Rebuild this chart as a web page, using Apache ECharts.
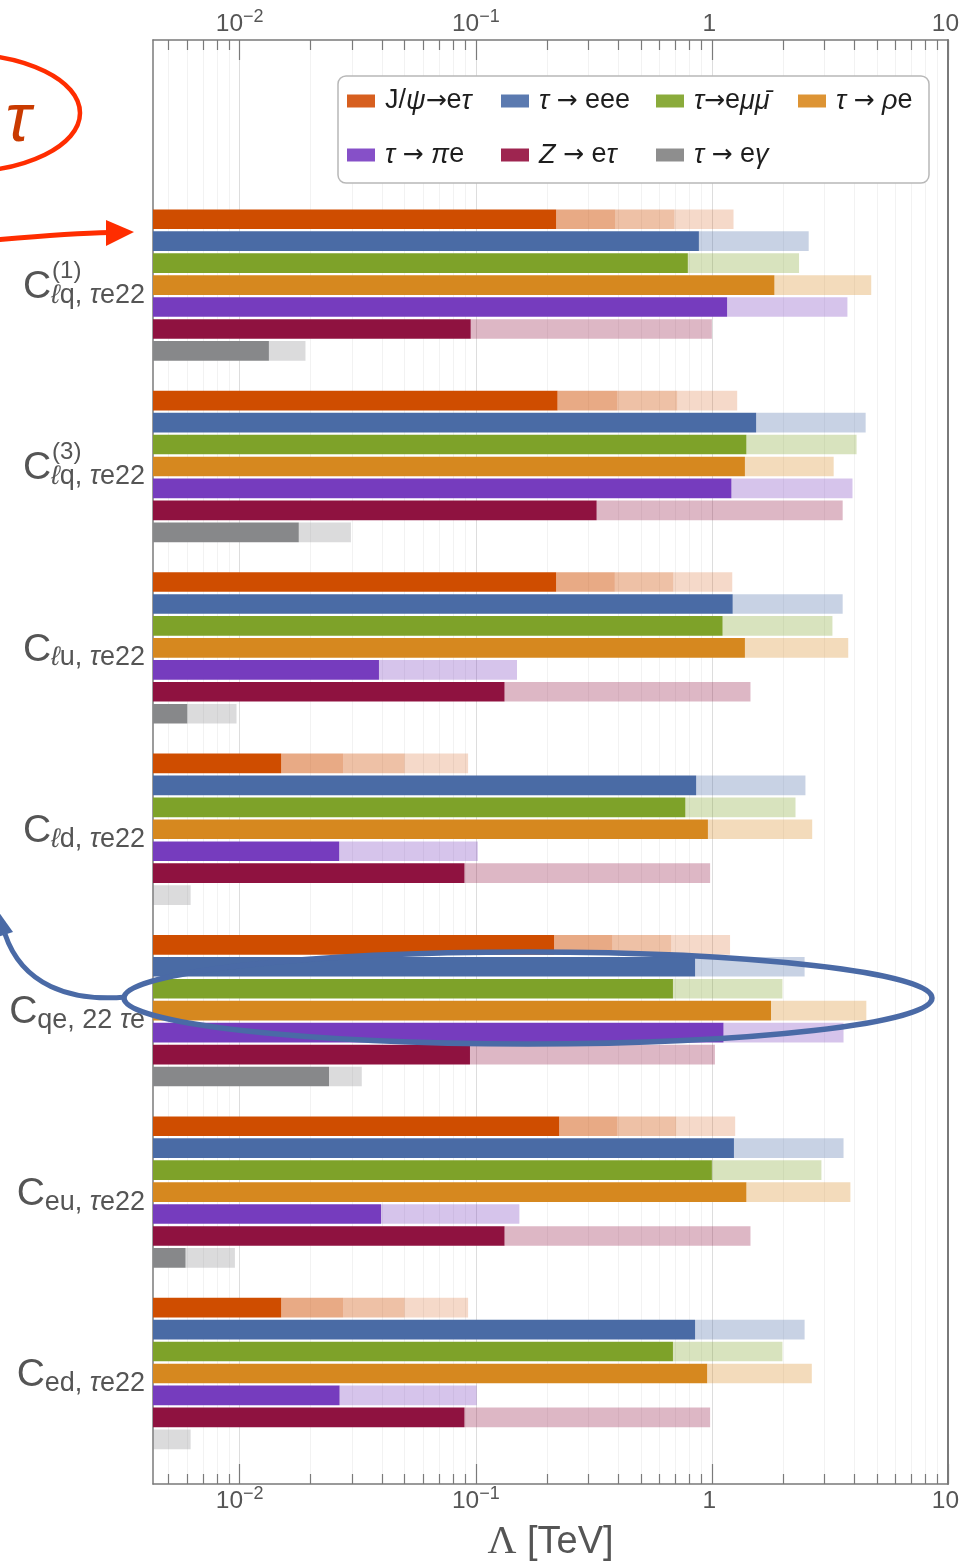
<!DOCTYPE html>
<html>
<head>
<meta charset="utf-8">
<script src="https://cdn.jsdelivr.net/npm/echarts@6/dist/echarts.min.js"></script>
<style>
  html, body { margin: 0; padding: 0; background: #ffffff; }
  #chart { width: 971px; height: 1562px; }
</style>
</head>
<body>
<div id="chart"></div>
<script>
// ---- Wilson coefficients (one block of bars each) ----
const coeffSub = ['ℓq, τe22', 'ℓq, τe22', 'ℓu, τe22', 'ℓd, τe22', 'qe, 22 τe', 'eu, τe22', 'ed, τe22'];
const coeffSup = ['(1)', '(3)', '', '', '', '', ''];

// ---- Decay channels ----
const channels = ['J/ψ→eτ', 'τ → eee', 'τ→eμμ̄', 'τ → ρe', 'τ → πe', 'Z → eτ', 'τ → eγ'];

// ---- Reach in Λ [TeV] per coefficient: present bound first, then projected bounds ----
const jpsiEtau  = [[0.219, 0.389, 0.694, 1.235], [0.222, 0.398, 0.713, 1.28], [0.219, 0.388, 0.686, 1.22],
                   [0.0150, 0.0274, 0.050, 0.0928], [0.2147, 0.379, 0.672, 1.194], [0.2256, 0.398, 0.706, 1.255],
                   [0.0150, 0.0274, 0.050, 0.0928]];
const tauEee    = [[0.881, 2.57], [1.54, 4.48], [1.225, 3.58], [0.858, 2.49], [0.849, 2.47], [1.24, 3.61], [0.849, 2.47]];
const tauEmumu  = [[0.791, 2.34], [1.40, 4.10], [1.11, 3.24], [0.772, 2.26], [0.684, 1.99], [1.0, 2.91], [0.684, 1.99]];
const tauRhoE   = [[1.84, 4.73], [1.38, 3.28], [1.38, 3.78], [0.962, 2.66], [1.78, 4.51], [1.40, 3.86], [0.955, 2.65]];
const tauPiE    = [[1.16, 3.75], [1.21, 3.94], [0.0389, 0.1495], [0.0264, 0.102], [1.12, 3.61], [0.0397, 0.153], [0.0265, 0.101]];
const zEtau     = [[0.0952, 1.0], [0.325, 3.58], [0.1324, 1.457], [0.0896, 0.983], [0.0945, 1.03], [0.1324, 1.457], [0.0896, 0.983]];
const tauEgamma = [[0.0133, 0.019], [0.0178, 0.0296], [0.0060, 0.0097], [null, 0.0062], [0.0239, 0.0329], [0.0059, 0.00955], [null, 0.0062]];

// ---- Axis ticks ----
const majorTicks = [0.01, 0.1, 1, 10];
const tickLabels = [['10', '−2'], ['10', '−1'], ['1', ''], ['10', '']];
const minorTicks = [0.005, 0.006, 0.007, 0.008, 0.009,
                    0.02, 0.03, 0.04, 0.05, 0.06, 0.07, 0.08, 0.09,
                    0.2, 0.3, 0.4, 0.5, 0.6, 0.7, 0.8, 0.9,
                    2, 3, 4, 5, 6, 7, 8, 9];

// ---- Styling ----
const barColors    = ['#cf4d00', '#4a6ba5', '#7ea229', '#d6881f', '#763cbe', '#8f1240', '#87888a'];
const legendColors = ['#d75f1f', '#5b7ab0', '#8aab3b', '#dd9434', '#8650c8', '#9e2550', '#8e8e8e'];
const shadeAlpha   = [[1, 0.48, 0.35, 0.21], [1, 0.30], [1, 0.30], [1, 0.30], [1, 0.30], [1, 0.30], [1, 0.30]];
const legendTextW  = [106, 107, 94, 81, 106, 107, 94];

const FONT = '"Liberation Sans", "DejaVu Sans", Arial, sans-serif';
const ARROW_FONT = '"DejaVu Sans", sans-serif';
const TEXT_GRAY = '#555555';
const FRAME = '#7a7a7a';

// horizontal axis works on log10(Λ)
const X_MIN = -2.367, X_MAX = 1;
// vertical layout in bar-row units
const GROUP_PITCH = 8.264;
const Y_MIN = -8.164, Y_MAX = 57.62;
const BAR_FILL = 0.895;

const lg = Math.log10;
const allBounds = [jpsiEtau, tauEee, tauEmumu, tauRhoE, tauPiE, zEtau, tauEgamma];

function hexToRgba(hex, a) {
  const n = parseInt(hex.slice(1), 16);
  return 'rgba(' + (n >> 16 & 255) + ',' + (n >> 8 & 255) + ',' + (n & 255) + ',' + a + ')';
}

// split a bound list into consecutive bar segments
function segments(bounds, g, c) {
  const out = [];
  let prev = X_MIN;
  bounds.forEach(function (b, k) {
    if (b == null) return;
    out.push([prev, lg(b), g * GROUP_PITCH + c, k]);
    prev = lg(b);
  });
  return out;
}

function barSeries(c) {
  const data = [];
  allBounds[c].forEach(function (bounds, g) { segments(bounds, g, c).forEach(function (s) { data.push(s); }); });
  return {
    type: 'custom',
    name: channels[c],
    coordinateSystem: 'cartesian2d',
    itemStyle: { color: legendColors[c] },
    encode: { x: [0, 1], y: 2 },
    clip: true,
    silent: true,
    data: data,
    renderItem: function (params, api) {
      const p0 = api.coord([api.value(0), api.value(2)]);
      const p1 = api.coord([api.value(1), api.value(2)]);
      const h = api.size([0, 1])[1] * BAR_FILL;
      const k = api.value(3);
      const fill = k === 0 ? barColors[c] : hexToRgba(barColors[c], shadeAlpha[c][k]);
      return {
        type: 'rect',
        shape: { x: p0[0], y: p0[1] - h / 2, width: p1[0] - p0[0], height: h },
        style: { fill: fill }
      };
    }
  };
}

// rich-text markup: Greek letters and Z in italics, arrows in a wider glyph
const RICH_RE = /([ψτμρπγZℓ]\u0304?)|(→)|([^ψτμρπγZℓ→]+)/g;
function toRich(str) {
  return str.replace(RICH_RE, function (m, it, ar, nm) {
    return it ? '{i|' + it + '}' : ar ? '{a|' + ar + '}' : '{n|' + nm + '}';
  });
}

const measureCtx = document.createElement('canvas').getContext('2d');
function richWidth(str, size) {
  let w = 0;
  str.replace(RICH_RE, function (m, it, ar) {
    measureCtx.font = it ? 'italic ' + size + 'px ' + FONT : ar ? size + 'px ' + ARROW_FONT : size + 'px ' + FONT;
    w += measureCtx.measureText(m).width;
    return m;
  });
  return w;
}

const C_SIZE = 39, SUB_SIZE = 27, SUP_SIZE = 24, LABEL_GAP = 8;

const labelSeries = {
  type: 'custom',
  name: 'coefficients',
  coordinateSystem: 'cartesian2d',
  clip: false,
  silent: true,
  encode: { x: 0, y: 1 },
  data: coeffSub.map(function (s, g) { return [X_MIN, g * GROUP_PITCH + 3]; }),
  renderItem: function (params, api) {
    const g = params.dataIndex;
    const p = api.coord([api.value(0), api.value(1)]);
    const R = p[0] - LABEL_GAP, cy = p[1];
    const subW = richWidth(coeffSub[g], SUB_SIZE);
    const children = [
      {
        type: 'text', x: R, y: cy + 10,
        style: {
          text: toRich(coeffSub[g]), align: 'right', verticalAlign: 'middle',
          rich: {
            n: { fontFamily: FONT, fontSize: SUB_SIZE, fill: TEXT_GRAY, color: TEXT_GRAY },
            i: { fontFamily: FONT, fontSize: SUB_SIZE, fontStyle: 'italic', fill: TEXT_GRAY, color: TEXT_GRAY }
          }
        }
      },
      {
        type: 'text', x: R - subW, y: cy + 2,
        style: { text: 'C', fontFamily: FONT, fontSize: C_SIZE, fill: TEXT_GRAY, align: 'right', verticalAlign: 'middle' }
      }
    ];
    if (coeffSup[g]) {
      children.push({
        type: 'text', x: R - subW + 1, y: cy - 14,
        style: { text: coeffSup[g], fontFamily: FONT, fontSize: SUP_SIZE, fill: TEXT_GRAY, align: 'left', verticalAlign: 'middle' }
      });
    }
    return { type: 'group', children: children };
  }
};

const majorLog = majorTicks.map(lg);
const minorLog = minorTicks.map(lg);

function tickFormatter(v) {
  let idx = 0, best = Infinity;
  majorLog.forEach(function (m, i) { if (Math.abs(m - v) < best) { best = Math.abs(m - v); idx = i; } });
  return '{b|' + tickLabels[idx][0] + '}{s|' + (tickLabels[idx][1] || ' ') + '}';
}
const tickRich = {
  b: { fontFamily: FONT, fontSize: 24.5, color: TEXT_GRAY, lineHeight: 33 },
  s: { fontFamily: FONT, fontSize: 18, color: TEXT_GRAY, lineHeight: 19, padding: [0, 0, 14, 0] }
};

function xAxisDef(position, major, withName) {
  return {
    type: 'value', position: position, min: X_MIN, max: X_MAX,
    axisLine: { show: major, onZero: false, lineStyle: { color: FRAME, width: 1.5 } },
    axisTick: {
      show: true, inside: true, length: major ? 20 : 10,
      customValues: major ? majorLog : minorLog,
      lineStyle: { color: FRAME, width: 1.2 }
    },
    axisLabel: major ? {
      show: true, customValues: majorLog, formatter: tickFormatter, rich: tickRich,
      margin: position === 'top' ? -1 : 1, hideOverlap: false
    } : { show: false },
    splitLine: {
      show: position === 'bottom',
      lineStyle: { color: major ? '#dddddd' : '#f2f2f2', width: 1 }
    },
    name: withName ? '{g|Λ} [TeV]' : '',
    nameLocation: 'middle',
    nameGap: 38,
    nameTextStyle: {
      fontFamily: FONT, fontSize: 38, color: TEXT_GRAY,
      rich: {
        g: { fontFamily: '"Liberation Serif", "DejaVu Serif", serif', fontSize: 40, color: TEXT_GRAY }
      }
    }
  };
}

function yAxisDef(position, width) {
  return {
    type: 'value', position: position, inverse: true, min: Y_MIN, max: Y_MAX,
    axisLine: { show: true, onZero: false, lineStyle: { color: FRAME, width: width } },
    axisTick: { show: false }, axisLabel: { show: false }, splitLine: { show: false }
  };
}

const LEG_SIZE = 27;
const legendRich = {
  n: { fontFamily: FONT, fontSize: LEG_SIZE, color: '#1e1e1e', lineHeight: 44 },
  i: { fontFamily: FONT, fontSize: LEG_SIZE, fontStyle: 'italic', color: '#1e1e1e', lineHeight: 44 },
  a: { fontFamily: ARROW_FONT, fontSize: LEG_SIZE - 2, color: '#1e1e1e', lineHeight: 44 }
};

const option = {
  animation: false,
  backgroundColor: '#ffffff',
  grid: { left: 153, right: 23, top: 40, bottom: 78, containLabel: false, outerBoundsMode: 'none' },
  xAxis: [
    xAxisDef('bottom', true, true),
    xAxisDef('bottom', false, false),
    xAxisDef('top', true, false),
    xAxisDef('top', false, false)
  ],
  yAxis: [yAxisDef('left', 1.5), yAxisDef('right', 2)],
  legend: {
    left: 338, top: 76, orient: 'horizontal', width: 575,
    padding: [3, 12, 6, 9], itemGap: 10, itemWidth: 28, itemHeight: 13, icon: 'rect',
    selectedMode: false,
    borderColor: '#b8b8b8', borderWidth: 1.5, borderRadius: 8, backgroundColor: '#ffffff',
    textStyle: { fontFamily: FONT, fontSize: LEG_SIZE, color: '#1e1e1e', lineHeight: 44, padding: [0, 0, 0, 5], rich: legendRich },
    formatter: function (name) { return toRich(name); },
    data: channels.map(function (n, i) {
      return { name: n, itemStyle: { color: legendColors[i] }, textStyle: { width: legendTextW[i] } };
    })
  },
  series: channels.map(function (n, c) { return barSeries(c); }).concat([labelSeries]),
  graphic: [
    // red ring with τ at the upper left
    { type: 'ellipse', z: 100, shape: { cx: -40, cy: 113, rx: 120, ry: 59 },
      style: { fill: 'none', stroke: '#ff2d00', lineWidth: 4.5 } },
    { type: 'text', z: 100, x: 31, y: 122,
      style: { text: 'τ', font: 'italic 68px "Liberation Sans", sans-serif', fill: '#c93a00', align: 'right', verticalAlign: 'middle' } },
    // red arrow towards the first block
    { type: 'bezierCurve', z: 100,
      shape: { x1: -5, y1: 240, x2: 110, y2: 232.5, cpx1: 40, cpy1: 236, cpx2: 80, cpy2: 233 },
      style: { fill: 'none', stroke: '#ff2d00', lineWidth: 5 } },
    { type: 'polygon', z: 100, shape: { points: [[106, 220], [134, 232], [106, 246]] },
      style: { fill: '#ff2d00' } },
    // blue loop around the τ→eμμ̄ / τ→ρe bars of the fifth block
    { type: 'ellipse', z: 100, shape: { cx: 528, cy: 998, rx: 404, ry: 46 },
      style: { fill: 'none', stroke: '#4a6aa6', lineWidth: 5.5 } },
    { type: 'bezierCurve', z: 100,
      shape: { x1: 126, y1: 997, x2: 5, y2: 934, cpx1: 70, cpy1: 1002, cpx2: 22, cpy2: 985 },
      style: { fill: 'none', stroke: '#4a6aa6', lineWidth: 5 } },
    { type: 'polygon', z: 100, shape: { points: [[-4, 908], [13, 932], [-12, 940]] },
      style: { fill: '#4a6aa6' } }
  ]
};

const chart = echarts.init(document.getElementById('chart'), null, { renderer: 'canvas' });
chart.setOption(option);
</script>
</body>
</html>
